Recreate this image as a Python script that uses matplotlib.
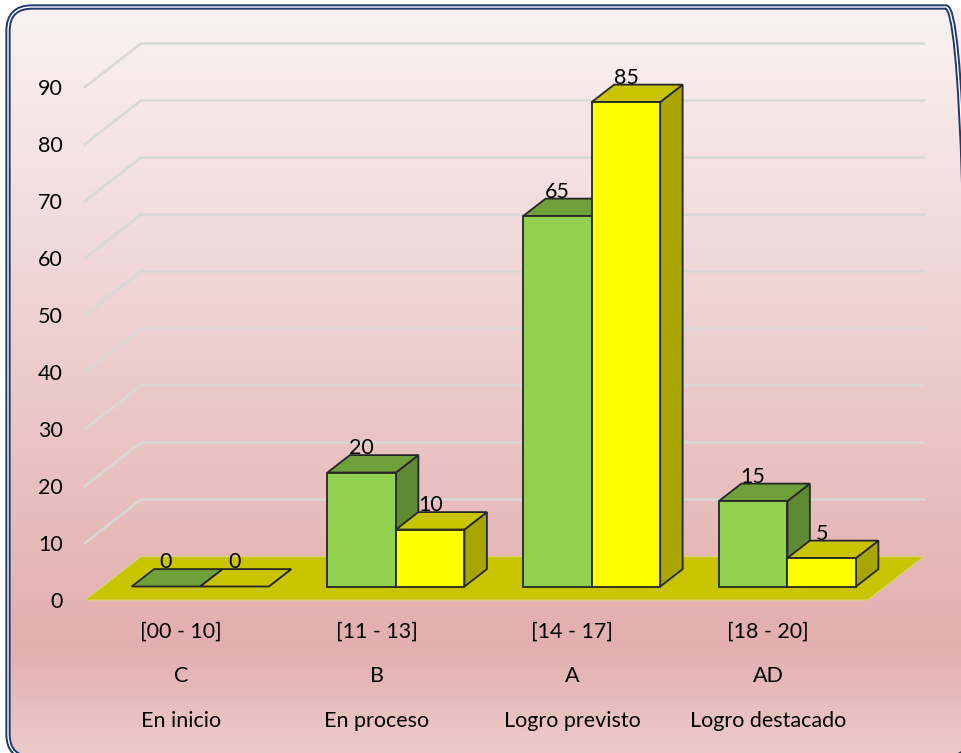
import numpy as np
import matplotlib
matplotlib.use('Agg')
import matplotlib.pyplot as plt
from matplotlib.patches import Polygon, FancyBboxPatch
from matplotlib.colors import LinearSegmentedColormap
from matplotlib.transforms import IdentityTransform

# data
rangos = ['[00 - 10]', '[11 - 13]', '[14 - 17]', '[18 - 20]']
niveles = ['C', 'B', 'A', 'AD']
descripcion = ['En inicio', 'En proceso', 'Logro previsto', 'Logro destacado']
serie_verde = [0, 20, 65, 15]
serie_amarilla = [0, 10, 85, 5]
yticks = list(range(0, 100, 10))

plt.rcParams['font.family'] = ['Lato', 'DejaVu Sans']
FS = 15.5

W, H = 962, 753
fig = plt.figure(figsize=(W / 100, H / 100), dpi=100)

# background with rounded frame (pixel coords, origin bottom-left)
bg = fig.add_axes([0, 0, 1, 1])
bg.set_xlim(0, W)
bg.set_ylim(0, H)
bg.axis('off')
box = (8, H - 758, 962, 751)   # x, y, w, h in pixels
frame = FancyBboxPatch(box[:2], box[2], box[3], boxstyle='round,pad=0,rounding_size=24',
                       fc='none', ec='#1F3A6E', lw=3.8, zorder=3, transform=IdentityTransform())
fig.patches.append(frame)
fig.patches.append(FancyBboxPatch(box[:2], box[2], box[3], boxstyle='round,pad=0,rounding_size=24',
                                  fc='none', ec='white', lw=1.0, zorder=4, transform=IdentityTransform()))
grad = np.linspace(0, 1, 256).reshape(-1, 1)
cmap = LinearSegmentedColormap.from_list('fondo', [(0, '#FAF3F3'), (0.86, '#E3AEAE'), (1, '#EDCACA')])
im = bg.imshow(grad, cmap=cmap, extent=[0, W, 0, H], origin='upper', aspect='auto', zorder=1)
im.set_clip_path(frame)

# main axes = front plane of the 3D box
ax = fig.add_axes([85 / W, 1 - 600 / H, 783 / W, 513 / H])
ax.set_xlim(-0.5, 3.5)
ax.set_ylim(0, 90)
ax.patch.set_alpha(0)
for s in ax.spines.values():
    s.set_visible(False)
ax.set_xticks([])
ax.set_yticks(yticks)
ax.tick_params(axis='y', length=0, pad=16, labelsize=FS)

DX, DY = 0.286, 7.63       # full depth offset (data units)
d0, d1 = 0.31, 0.71        # bar depth range
bw = 0.35

# walls gridlines
for v in yticks[1:]:
    ax.plot([-0.5, -0.5 + DX, 3.5 + DX], [v, v + DY, v + DY], color='#D8D8D8',
            lw=1.8, clip_on=False, zorder=1)

# floor
ax.add_patch(Polygon([(-0.5, 0), (3.5, 0), (3.5 + DX, DY), (-0.5 + DX, DY)],
                     closed=True, fc='#C8C400', ec='#D9D47A', lw=0.8, clip_on=False, zorder=2))


def bar3d(x0, v, front, top, side):
    x1 = x0 + bw
    ox, oy = d0 * DX, d0 * DY
    bx, by = d1 * DX, d1 * DY
    kw = dict(closed=True, ec='#262626', lw=1.3, clip_on=False, zorder=3)
    ax.add_patch(Polygon([(x1 + ox, oy), (x1 + bx, by), (x1 + bx, v + by), (x1 + ox, v + oy)], fc=side, **kw))
    ax.add_patch(Polygon([(x0 + ox, v + oy), (x1 + ox, v + oy), (x1 + bx, v + by), (x0 + bx, v + by)], fc=top, **kw))
    if v > 0:
        ax.add_patch(Polygon([(x0 + ox, oy), (x1 + ox, oy), (x1 + ox, v + oy), (x0 + ox, v + oy)], fc=front, **kw))
    ax.annotate(str(v), ((x0 + x1) / 2 + ox, v + by), xytext=(0, 7), textcoords='offset pixels',
                ha='center', va='center', fontsize=FS, zorder=5, annotation_clip=False)


for i in range(len(rangos)):
    bar3d(i - bw, serie_verde[i], '#92D050', '#70A03A', '#5F8A33')
    bar3d(i, serie_amarilla[i], '#FFFF00', '#C8C400', '#A8A400')

# category labels (three rows)
for i in range(len(rangos)):
    for txt, off in zip([rangos[i], niveles[i], descripcion[i]], [-32, -76, -121]):
        ax.annotate(txt, (i, 0), xytext=(-2, off), textcoords='offset pixels',
                    ha='center', va='center', fontsize=FS, annotation_clip=False)

fig.savefig('out.png', dpi=100)
